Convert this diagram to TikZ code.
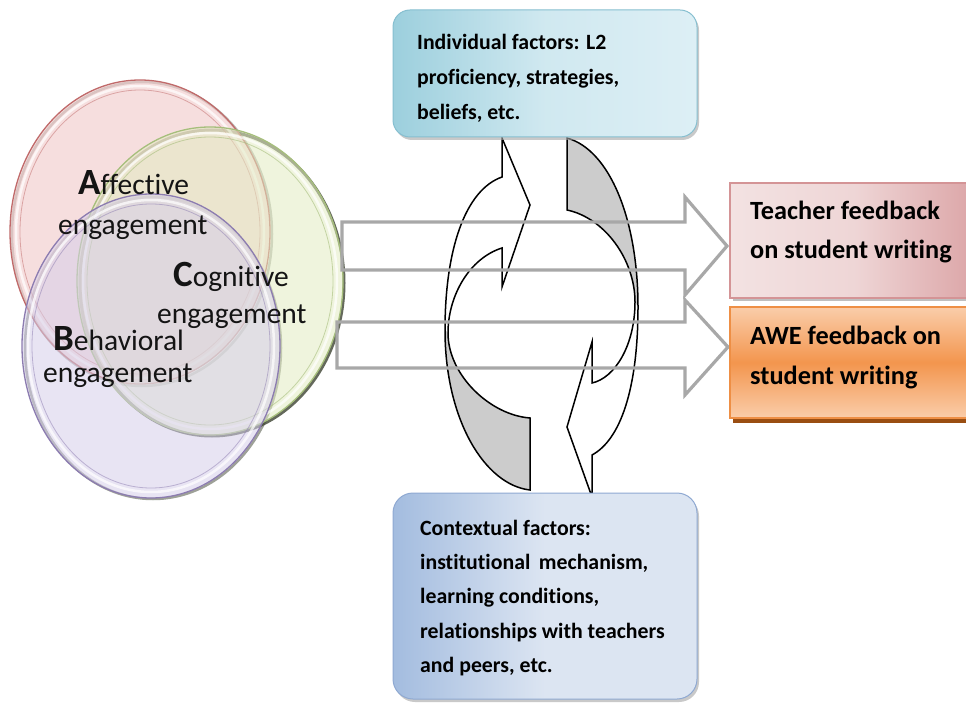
\documentclass[tikz,border=0pt]{standalone}
\usepackage{fontspec}
\setmainfont{Carlito}[Ligatures=NoCommon]
\usetikzlibrary{shadows}
\newcommand\capinit[1]{{\bfseries\fontsize{37}{37}\selectfont #1}}
\definecolor{redfill}{HTML}{F0C8C8}
\definecolor{redline}{HTML}{C06A6A}
\definecolor{greenfill}{HTML}{E2ECC2}
\definecolor{greenline}{HTML}{A6BE7C}
\definecolor{purplefill}{HTML}{D6CFEA}
\definecolor{purpleline}{HTML}{8C7CB0}
\definecolor{darkrim}{HTML}{3E4433}
\definecolor{arrowgray}{HTML}{A8A8A8}
\definecolor{backgray}{HTML}{CCCCCC}
\definecolor{topblueA}{HTML}{9CCFDD}
\definecolor{topblueB}{HTML}{DDEFF5}
\definecolor{topblueline}{HTML}{86BFD0}
\definecolor{botblueA}{HTML}{A3BCDF}
\definecolor{botblueB}{HTML}{DCE5F2}
\definecolor{botblueline}{HTML}{8FA9D2}
\definecolor{pinkA}{HTML}{F3E2E2}
\definecolor{pinkB}{HTML}{DBA3A5}
\definecolor{pinkline}{HTML}{D49496}
\definecolor{orangeA}{HTML}{FACDAA}
\definecolor{orangeB}{HTML}{F3964E}
\definecolor{orangeline}{HTML}{EE8F45}
\definecolor{brownbar}{HTML}{9A4E12}
\tikzset{
  circtxt/.style={anchor=base west, inner sep=0pt, text=black!92,
    font=\fontsize{29.5}{31}\selectfont},
  boxtxt/.style={anchor=base west, inner sep=0pt, text=black,
    font=\bfseries\fontsize{21.8}{24}\selectfont},
  bigboxtxt/.style={anchor=base west, inner sep=0pt, text=black,
    font=\bfseries\fontsize{26.3}{28}\selectfont},
  blockarrow/.style={draw=arrowgray, line width=3.2pt, line join=miter},
  cyclearrow/.style={draw=black, line width=1.5pt, line join=miter},
  roundbox/.style={rectangle, rounded corners=17pt, inner sep=0pt,
    drop shadow={shadow xshift=2pt, shadow yshift=-3pt, fill=black!35, opacity=0.6}},
  flatbox/.style={rectangle, inner sep=0pt}
}
\begin{document}
\begin{tikzpicture}[x=1pt,y=-1pt]
\useasboundingbox (0,0) rectangle (966,703);
\fill[white] (0,0) rectangle (966,703);

% ---------- three engagement circles ----------
\draw[darkrim, opacity=0.35, line width=2.5pt] (142,234) ellipse [x radius=130pt, y radius=152pt];
\draw[darkrim, opacity=0.8, line width=3pt] (212,283) ellipse [x radius=132pt, y radius=153pt];
\draw[darkrim, opacity=0.5, line width=2.5pt] (153,348) ellipse [x radius=128pt, y radius=151pt];
% red
\fill[redfill, opacity=0.6] (140,232) ellipse [x radius=130pt, y radius=152pt];
\draw[redline, line width=1.3pt] (140,232) ellipse [x radius=130pt, y radius=152pt];
\draw[white, opacity=0.7, line width=2.5pt] (140,232) ellipse [x radius=124pt, y radius=146pt];
\draw[redline, opacity=0.5, line width=0.8pt] (140,232) ellipse [x radius=120pt, y radius=142pt];
% green
\fill[greenfill, opacity=0.55] (210,281) ellipse [x radius=133pt, y radius=154pt];
\draw[greenline, line width=1.3pt] (210,281) ellipse [x radius=133pt, y radius=154pt];
\draw[white, opacity=0.7, line width=2.5pt] (210,281) ellipse [x radius=127pt, y radius=148pt];
\draw[greenline, opacity=0.6, line width=0.8pt] (210,281) ellipse [x radius=123pt, y radius=144pt];
% purple
\fill[purplefill, opacity=0.55] (151,346) ellipse [x radius=129pt, y radius=152pt];
\draw[purpleline, line width=1.3pt] (151,346) ellipse [x radius=129pt, y radius=152pt];
\draw[white, opacity=0.7, line width=2.5pt] (151,346) ellipse [x radius=123pt, y radius=146pt];
\draw[purpleline, opacity=0.5, line width=0.8pt] (151,346) ellipse [x radius=119pt, y radius=142pt];

% circle texts
\node[circtxt] (aff1) at (78,195) {\capinit{A}ffective};
\node[circtxt] (aff2) at (58,235) {engagement};
\node[circtxt] (cog1) at (173,287) {\capinit{C}ognitive};
\node[circtxt] (cog2) at (157,323) {engagement};
\node[circtxt] (beh1) at (53,350) {\capinit{B}ehavioral};
\node[circtxt] (beh2) at (43,382) {engagement};

% ---------- cycle arrows ----------
% left arrow (points up)
\fill[white] (502,177) -- (502,138) -- (530,205) -- (502,287) -- (502,248)
  .. controls (470,258) and (448,295) .. (448,333)
  .. controls (448,375) and (490,415) .. (530,418) -- (530,490)
  .. controls (485,485) and (445,420) .. (445,330)
  .. controls (445,250) and (465,190) .. (502,177) -- cycle;
\fill[backgray] (445,330) .. controls (445,420) and (485,485) .. (530,490)
  -- (530,418) .. controls (490,415) and (448,375) .. (448,333) -- cycle;
\draw[cyclearrow] (502,177) -- (502,138) -- (530,205) -- (502,287) -- (502,248)
  .. controls (470,258) and (448,295) .. (448,333)
  .. controls (448,375) and (490,415) .. (530,418) -- (530,490)
  .. controls (485,485) and (445,420) .. (445,330)
  .. controls (445,250) and (465,190) .. (502,177) -- cycle;
% right arrow (points down)
\fill[white] (567,138) .. controls (610,150) and (638,220) .. (638,307)
  .. controls (638,390) and (620,440) .. (592,455)
  -- (592,497) -- (567,427) -- (592,342) -- (592,383)
  .. controls (615,378) and (635,345) .. (635,302)
  .. controls (635,260) and (605,218) .. (567,210) -- cycle;
\fill[backgray] (567,138) .. controls (610,150) and (638,220) .. (638,307)
  -- (635,302) .. controls (635,260) and (605,218) .. (567,210) -- cycle;
\draw[cyclearrow] (567,138) .. controls (610,150) and (638,220) .. (638,307)
  .. controls (638,390) and (620,440) .. (592,455)
  -- (592,497) -- (567,427) -- (592,342) -- (592,383)
  .. controls (615,378) and (635,345) .. (635,302)
  .. controls (635,260) and (605,218) .. (567,210) -- cycle;

% ---------- block arrows ----------
\draw[blockarrow] (342,222) -- (685,222) -- (685,197) -- (727,246) -- (685,295)
  -- (685,270) -- (342,270) -- cycle;
\draw[blockarrow] (337,322) -- (685,322) -- (685,300) -- (728,347) -- (685,395)
  -- (685,368) -- (337,368) -- cycle;

% ---------- factor boxes ----------
\node[roundbox, draw=topblueline, line width=1pt,
  left color=topblueA, right color=topblueB, middle color=topblueB!80!topblueA,
  minimum width=304pt, minimum height=127pt] (ind) at (545,73.5) {};
\node[boxtxt] (ind1) at (417,50) {Individual factors: L2};
\node[boxtxt] (ind2) at (417,85) {proficiency, strategies,};
\node[boxtxt] (ind3) at (417,120) {beliefs, etc.};

\node[roundbox, rounded corners=20pt, draw=botblueline, line width=1pt,
  left color=botblueA, right color=botblueB, middle color=botblueB,
  minimum width=304pt, minimum height=206pt] (ctx) at (545,596) {};
\node[boxtxt] (ctx1) at (420,535) {Contextual factors:};
\node[boxtxt] (ctx2) at (420,569) {institutional\, mechanism,};
\node[boxtxt] (ctx3) at (420,603) {learning conditions,};
\node[boxtxt] (ctx4) at (420,638) {relationships with teachers};
\node[boxtxt] (ctx5) at (420,672) {and peers, etc.};

% ---------- feedback boxes ----------
\fill[black!25] (733,186) rectangle (980,301);
\node[flatbox, draw=pinkline, line width=1.2pt,
  left color=pinkA, right color=pinkB, middle color=pinkA!80!pinkB,
  minimum width=250pt, minimum height=115pt] (tf) at (855,240.5) {};
\node[bigboxtxt] (tf1) at (750,220) {Teacher feedback};
\node[bigboxtxt] (tf2) at (750,259) {on student writing};

\fill[brownbar] (733,312) rectangle (980,423);
\node[flatbox, draw=orangeline, line width=1.2pt,
  top color=orangeA, bottom color=orangeA, middle color=orangeB,
  minimum width=250pt, minimum height=111pt] (awe) at (855,362.5) {};
\node[bigboxtxt] (awe1) at (750,344) {AWE feedback on};
\node[bigboxtxt] (awe2) at (750,384) {student writing};
\end{tikzpicture}
\end{document}
